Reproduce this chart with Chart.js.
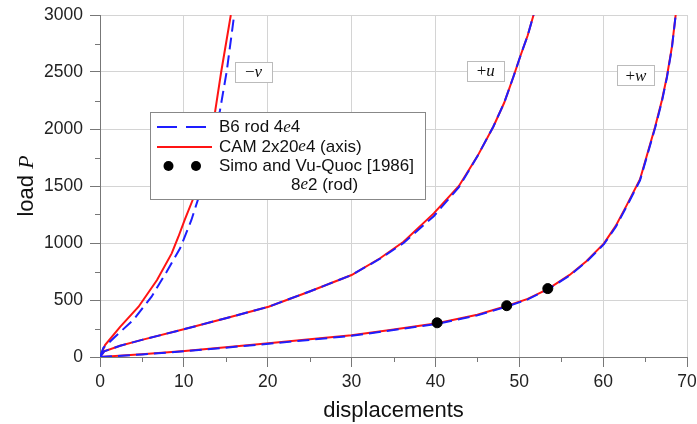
<!DOCTYPE html>
<html>
<head>
<meta charset="utf-8">
<script src="https://cdn.jsdelivr.net/npm/chart.js@4.4.9/dist/chart.umd.min.js"></script>
<style>
  body { margin: 0; background: #fff; }
  canvas { display: block; }
</style>
</head>
<body>
<canvas id="c" width="697" height="424"></canvas>
<script>
// B6 rod 4e4 (blue dashed)
const rodVX = [0, 0.4, 1.8, 3.97, 6.15, 7.95, 9.55, 10.9, 12.2, 13.2, 14.3, 15.1, 16.0];
const rodVY = [0, 80, 178, 325, 529, 747, 953, 1202, 1500, 1800, 2160, 2500, 3000];
const rodUX = [0, 0.5, 2.4, 5, 10.1, 15, 20.1, 25, 30, 33.4, 36.2, 39.8, 42.8, 45, 46.9, 48.2, 49.3, 50.1, 51, 51.7];
const rodUY = [0, 50, 99, 150, 245, 340, 441, 575, 719, 862, 1000, 1235, 1490, 1760, 2020, 2230, 2458, 2634, 2820, 3000];
const rodWX = [0, 5, 10.1, 15, 20.1, 25, 30, 34.6, 40.2, 45, 48.5, 51, 53.4, 56, 58, 60.1, 61.5, 62.8, 64.4, 65.3, 66.2, 67.0, 67.6, 68.2, 68.65];
const rodWY = [0, 22, 50, 82, 116, 150, 186, 232, 290, 365, 442, 505, 592, 715, 835, 990, 1140, 1320, 1550, 1780, 2010, 2240, 2450, 2710, 3000];

// CAM 2x20e4 (axis) (red solid)
const camVX = [0, 0.6, 2.4, 4.6, 6.8, 8.55, 9.35, 10.1, 11.05, 12.0, 12.9, 13.7, 14.45, 15.6];
const camVY = [0, 105, 265, 441, 675, 909, 1055, 1202, 1377, 1600, 1880, 2140, 2500, 3000];
const camUX = [0, 0.5, 2.4, 5, 10.1, 15, 20.1, 25, 30, 33.4, 36.2, 39.8, 42.8, 45, 46.9, 48.2, 49.3, 50.1, 51, 51.7];
const camUY = [0, 50, 99, 150, 245, 340, 441, 575, 719, 866, 1011, 1260, 1500, 1760, 2020, 2230, 2458, 2634, 2820, 3000];
const camWX = [0, 5, 10.1, 15, 20.1, 25, 30, 34.6, 40.2, 45, 48.5, 51, 53.4, 56, 58, 60.1, 61.5, 62.8, 64.4, 65.3, 66.2, 67.0, 67.6, 68.2, 68.65];
const camWY = [0, 25, 53, 85, 120, 155, 190, 237, 296, 370, 447, 510, 596, 720, 840, 997, 1150, 1330, 1560, 1790, 2020, 2250, 2458, 2720, 3000];

// Simo and Vu-Quoc [1986] 8e2 (rod)
const simoX = [40.2, 48.5, 53.4];
const simoY = [300, 450, 600];

// curve labels, placed in data units
const curveLabels = ["−", "+", "+"];
const curveVars = ["v", "u", "w"];
const curveLabelX = [18.3, 46.0, 63.9];
const curveLabelY = [2500, 2510, 2470];

const BLUE = "rgb(30,30,255)";
const RED = "rgb(255,20,20)";
const SANS = "'Liberation Sans', Arial, sans-serif";
const SERIF = "'Liberation Serif', 'Times New Roman', serif";

const pts = (xs, ys) => xs.map((x, i) => ({ x, y: ys[i] }));

const rodLine = (xs, ys) => ({
  data: pts(xs, ys), showLine: true, borderColor: BLUE, borderWidth: 2,
  borderDash: [12, 6], pointRadius: 0, tension: 0,
});
const camLine = (xs, ys) => ({
  data: pts(xs, ys), showLine: true, borderColor: RED, borderWidth: 2,
  pointRadius: 0, tension: 0,
});

// draws text runs [text, font] centred or left aligned
function runs(ctx, parts, x, y, align) {
  let w = 0;
  parts.forEach(([t, f]) => { ctx.font = f; w += ctx.measureText(t).width; });
  let cx = align === "center" ? x - w / 2 : x;
  ctx.textAlign = "left";
  parts.forEach(([t, f]) => {
    ctx.font = f;
    ctx.fillText(t, cx, y);
    cx += ctx.measureText(t).width;
  });
}

const overlay = {
  id: "overlay",
  afterDraw(chart) {
    const { ctx, chartArea: a, scales: { x, y } } = chart;
    ctx.save();

    // minor ticks
    ctx.strokeStyle = "#777";
    ctx.lineWidth = 1;
    ctx.beginPath();
    x.ticks.forEach((t) => {
      if (t.value % 10 === 0) return;
      const px = Math.round(x.getPixelForValue(t.value)) + 0.5;
      ctx.moveTo(px, a.bottom);
      ctx.lineTo(px, a.bottom + 5);
    });
    y.ticks.forEach((t) => {
      if (t.value % 500 === 0) return;
      const py = Math.round(y.getPixelForValue(t.value)) + 0.5;
      ctx.moveTo(a.left, py);
      ctx.lineTo(a.left - 5, py);
    });
    ctx.stroke();

    // curve labels
    ctx.textBaseline = "middle";
    curveLabels.forEach((s, i) => {
      const cx = x.getPixelForValue(curveLabelX[i]);
      const cy = y.getPixelForValue(curveLabelY[i]);
      ctx.fillStyle = "#fff";
      ctx.strokeStyle = "#bbb";
      ctx.fillRect(cx - 18.5, cy - 10, 37, 20);
      ctx.strokeRect(Math.round(cx - 18.5) + 0.5, Math.round(cy - 10) + 0.5, 37, 20);
      ctx.fillStyle = "#111";
      runs(ctx, [[s, "17px " + SERIF], [curveVars[i], "italic 17px " + SERIF]], cx, cy + 1, "center");
    });

    // legend
    ctx.fillStyle = "#fff";
    ctx.fillRect(151, 113, 275, 87);
    ctx.strokeStyle = "#888";
    ctx.strokeRect(150.5, 112.5, 275, 87);

    ctx.lineWidth = 2;
    ctx.strokeStyle = BLUE;
    ctx.setLineDash([20, 9]);
    ctx.beginPath(); ctx.moveTo(157, 127); ctx.lineTo(212, 127); ctx.stroke();
    ctx.setLineDash([]);
    ctx.strokeStyle = RED;
    ctx.beginPath(); ctx.moveTo(157, 147); ctx.lineTo(212, 147); ctx.stroke();
    ctx.fillStyle = "#000";
    [168.5, 196].forEach((cx) => {
      ctx.beginPath(); ctx.arc(cx, 166, 5, 0, Math.PI * 2); ctx.fill();
    });

    const f = "17px " + SANS, fe = "italic 17px " + SERIF;
    ctx.fillStyle = "#111";
    runs(ctx, [["B6 rod 4", f], ["e", fe], ["4", f]], 219, 127.5, "left");
    runs(ctx, [["CAM 2x20", f], ["e", fe], ["4 (axis)", f]], 219, 147, "left");
    runs(ctx, [["Simo and Vu-Quoc [1986]", f]], 219, 166, "left");
    runs(ctx, [["8", f], ["e", fe], ["2 (rod)", f]], 291, 185, "left");

    // axis titles
    ctx.textBaseline = "alphabetic";
    ctx.fillStyle = "#111";
    runs(ctx, [["displacements", "22px " + SANS]], (a.left + a.right) / 2, 417, "center");
    ctx.translate(33, (a.top + a.bottom) / 2);
    ctx.rotate(-Math.PI / 2);
    runs(ctx, [["load ", "22px " + SANS], ["P", "italic 22px " + SERIF]], 0, 0, "center");

    ctx.restore();
  },
};

const tickFont = { family: SANS, size: 17.5 };

new Chart(document.getElementById("c"), {
  type: "scatter",
  data: {
    datasets: [
      { data: pts(simoX, simoY), pointRadius: 5, pointBackgroundColor: "#000", pointBorderColor: "#000", showLine: false },
      rodLine(rodVX, rodVY),
      rodLine(rodUX, rodUY),
      rodLine(rodWX, rodWY),
      camLine(camVX, camVY),
      camLine(camUX, camUY),
      camLine(camWX, camWY),
    ],
  },
  options: {
    responsive: false,
    animation: false,
    layout: { padding: { top: 15, right: 10, left: 0, bottom: 0 } },
    plugins: { legend: { display: false }, tooltip: { enabled: false } },
    scales: {
      x: {
        type: "linear", min: 0, max: 70,
        ticks: {
          stepSize: 5, autoSkip: false, maxRotation: 0, padding: 5,
          color: "#222", font: tickFont,
          callback: (v) => (v % 10 === 0 ? v : ""),
        },
        grid: {
          color: (c) => (c.tick && c.tick.value % 10 === 0 ? "#d4d4d4" : "rgba(0,0,0,0)"),
          tickColor: (c) => (c.tick && c.tick.value % 10 === 0 ? "#777" : "rgba(0,0,0,0)"),
          tickLength: 10,
        },
        border: { color: "#777" },
        afterFit: (s) => { s.height = 67; s.paddingLeft = 0; s.paddingRight = 0; },
      },
      y: {
        type: "linear", min: 0, max: 3000,
        ticks: {
          stepSize: 250, autoSkip: false, padding: 7,
          color: "#222", font: tickFont,
          callback: (v) => (v % 500 === 0 ? v : ""),
        },
        grid: {
          color: (c) => (c.tick && c.tick.value % 500 === 0 ? "#d4d4d4" : "rgba(0,0,0,0)"),
          tickColor: (c) => (c.tick && c.tick.value % 500 === 0 ? "#777" : "rgba(0,0,0,0)"),
          tickLength: 10,
        },
        border: { color: "#777" },
        afterFit: (s) => { s.width = 100; s.paddingTop = 0; s.paddingBottom = 0; },
      },
    },
  },
  plugins: [overlay],
});
</script>
</body>
</html>
